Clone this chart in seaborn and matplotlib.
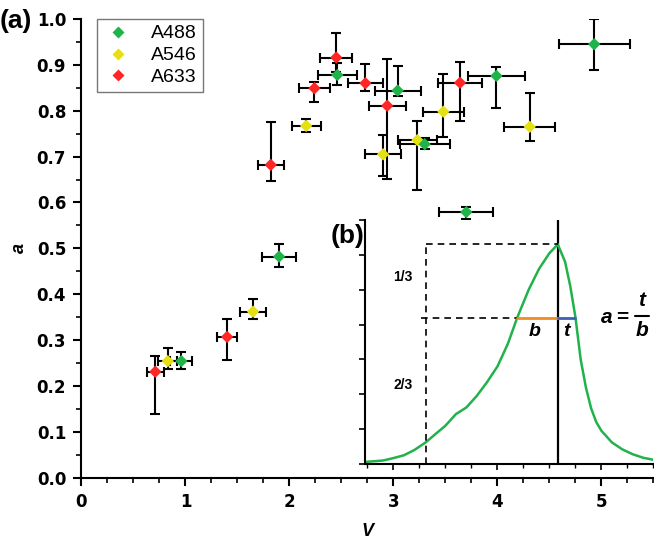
import matplotlib
matplotlib.use("Agg")
import matplotlib.pyplot as plt
from matplotlib.ticker import MultipleLocator, NullFormatter, FormatStrFormatter
from matplotlib.lines import Line2D
import pandas as pd
import seaborn as sns

# --- data -----------------------------------------------------------------
dyes = ["A488", "A546", "A633"]
colors = {"A488": "#1fb44a", "A546": "#e6e010", "A633": "#ff2626"}

a488_v = [0.96, 1.90, 2.46, 3.04, 3.30, 3.70, 3.99, 4.93]
a488_a = [0.254, 0.482, 0.878, 0.844, 0.727, 0.579, 0.876, 0.945]
a488_verr = [0.105, 0.16, 0.19, 0.22, 0.24, 0.26, 0.275, 0.34]
a488_lo = [0.238, 0.460, 0.856, 0.832, 0.716, 0.563, 0.807, 0.889]
a488_hi = [0.273, 0.509, 0.903, 0.898, 0.740, 0.591, 0.895, 0.999]

a546_v = [0.83, 1.65, 2.16, 2.90, 3.23, 3.48, 4.31]
a546_a = [0.254, 0.362, 0.767, 0.705, 0.736, 0.798, 0.765]
a546_verr = [0.09, 0.125, 0.14, 0.175, 0.185, 0.20, 0.245]
a546_lo = [0.237, 0.345, 0.754, 0.658, 0.627, 0.742, 0.734]
a546_hi = [0.283, 0.390, 0.783, 0.747, 0.778, 0.880, 0.839]

a633_v = [0.71, 1.40, 1.82, 2.24, 2.45, 2.73, 2.94, 3.64]
a633_a = [0.231, 0.307, 0.682, 0.849, 0.916, 0.860, 0.811, 0.861]
a633_verr = [0.08, 0.10, 0.125, 0.145, 0.155, 0.17, 0.18, 0.215]
a633_lo = [0.139, 0.257, 0.647, 0.818, 0.885, 0.842, 0.651, 0.778]
a633_hi = [0.265, 0.345, 0.776, 0.863, 0.969, 0.902, 0.913, 0.906]

# inset (b): example intensity profile
prof_v = [2.73, 2.9, 3.0, 3.1, 3.2, 3.31, 3.4, 3.5, 3.6, 3.7, 3.8, 3.9, 4.0,
          4.1, 4.19, 4.3, 4.4, 4.5, 4.58, 4.65, 4.7, 4.75, 4.8, 4.85, 4.9,
          4.95, 5.0, 5.1, 5.2, 5.3, 5.4, 5.5]
prof_i = [0.06, 0.1, 0.17, 0.25, 0.4, 0.62, 0.85, 1.1, 1.43, 1.62, 1.95, 2.35,
          2.8, 3.45, 4.2, 5.0, 5.6, 6.05, 6.3, 5.8, 5.1, 4.2, 3.0, 2.2, 1.6,
          1.2, 0.95, 0.62, 0.42, 0.28, 0.18, 0.12]
v_start, v_peak, v_b, v_t = 3.31, 4.58, 4.19, 4.75
i_peak, i_level = 6.3, 4.2

frames = []
for name, v, a, ve, lo, hi in [
    ("A633", a633_v, a633_a, a633_verr, a633_lo, a633_hi),
    ("A546", a546_v, a546_a, a546_verr, a546_lo, a546_hi),
    ("A488", a488_v, a488_a, a488_verr, a488_lo, a488_hi),
]:
    frames.append(pd.DataFrame({"dye": name, "V": v, "a": a, "verr": ve,
                                "lo": lo, "hi": hi}))
df = pd.concat(frames, ignore_index=True)
prof = pd.DataFrame({"V": prof_v, "I": prof_i})

# --- style ------------------------------------------------------------------
sns.set_style("ticks")
plt.rcParams["font.family"] = ["Liberation Sans", "DejaVu Sans"]
for key in ["axes.edgecolor", "xtick.color", "ytick.color", "text.color",
            "axes.labelcolor"]:
    plt.rcParams[key] = "black"

fig = plt.figure(figsize=(6.54, 5.43), dpi=100)
ax = fig.add_axes([0.1246, 0.1203, 0.8746, 0.8447])

# error bars first, then markers on top
ax.errorbar(df["V"], df["a"], xerr=df["verr"],
            yerr=[df["a"] - df["lo"], df["hi"] - df["a"]],
            fmt="none", ecolor="black", elinewidth=1.5, capsize=3.6,
            capthick=1.5, zorder=2)
sns.scatterplot(data=df, x="V", y="a", hue="dye", hue_order=dyes[::-1],
                palette=colors, marker="D", s=40, edgecolor="none",
                legend=False, ax=ax, zorder=3)

ax.set_xlim(0, 5.5)
ax.set_ylim(0, 1.0)
ax.xaxis.set_major_locator(MultipleLocator(1))
ax.xaxis.set_minor_locator(MultipleLocator(0.25))
ax.yaxis.set_major_locator(MultipleLocator(0.1))
ax.yaxis.set_minor_locator(MultipleLocator(0.05))
ax.yaxis.set_major_formatter(FormatStrFormatter("%.1f"))
ax.tick_params(which="major", direction="out", length=6, width=1.5,
               labelsize=12, pad=5)
ax.tick_params(which="minor", direction="out", length=3.5, width=1.2)
for lab in ax.get_xticklabels() + ax.get_yticklabels():
    lab.set_fontweight("bold")
    lab.set_family(["DejaVu Sans"])
for side in ["left", "bottom"]:
    ax.spines[side].set_linewidth(1.5)
sns.despine(ax=ax)

ax.set_xlabel("V", fontsize=13, fontweight="bold", style="italic", labelpad=9)
ax.set_ylabel("a", fontsize=13, fontweight="bold", style="italic", labelpad=6)

handles = [Line2D([], [], marker="D", ls="none", color=colors[d], ms=6.5,
                  mec="none") for d in dyes]
leg = ax.legend(handles, dyes, loc="upper left", bbox_to_anchor=(0.027, 1.0),
                fontsize=14, frameon=True, fancybox=False, borderpad=0.3,
                labelspacing=0.22, handletextpad=0.9, handlelength=1.6,
                borderaxespad=0)
leg.get_frame().set_edgecolor("#555555")
leg.get_frame().set_linewidth(1.0)

fig.text(0.0, 0.962, "(a)", fontsize=19, fontweight="bold", va="center")

# --- inset (b) ----------------------------------------------------------------
ax2 = fig.add_axes([0.5581, 0.1455, 0.4411, 0.4494])
ax2.set_facecolor("white")
sns.lineplot(data=prof, x="V", y="I", color="#22b24c", lw=1.8, ax=ax2)
ax2.set_xlim(2.726, 5.5)
ax2.set_ylim(0, 7)
ax2.xaxis.set_major_locator(MultipleLocator(1))
ax2.xaxis.set_minor_locator(MultipleLocator(0.25))
ax2.yaxis.set_major_locator(MultipleLocator(1))
ax2.xaxis.set_major_formatter(NullFormatter())
ax2.yaxis.set_major_formatter(NullFormatter())
ax2.tick_params(which="major", direction="out", length=4, width=1.2)
ax2.tick_params(which="minor", direction="out", length=3, width=1.0)
ax2.set_xlabel("")
ax2.set_ylabel("")
for side in ["left", "bottom"]:
    ax2.spines[side].set_linewidth(1.5)
sns.despine(ax=ax2)

ax2.axvline(v_peak, color="black", lw=1.6, zorder=1)
ax2.plot([v_start, v_start], [0, i_peak], ls=(0, (4, 3)), color="black", lw=1.2)
ax2.plot([v_start, v_peak], [i_peak, i_peak], ls=(0, (4, 3)), color="black",
         lw=1.2)
ax2.plot([3.26, v_b], [i_level, i_level], ls=(0, (4, 3)), color="black", lw=1.2)
ax2.plot([v_b, v_peak], [i_level, i_level], color="#f28b23", lw=2)
ax2.plot([v_peak, v_t], [i_level, i_level], color="#3d5fb6", lw=2)

ax2.text(3.09, 5.36, "1/3", fontsize=10, fontweight="bold", ha="center",
         va="center")
ax2.text(3.09, 2.26, "2/3", fontsize=10, fontweight="bold", ha="center",
         va="center")
ax2.text(4.36, 3.8, "b", fontsize=14, fontweight="bold", style="italic",
         ha="center", va="center")
ax2.text(4.66, 3.8, "t", fontsize=14, fontweight="bold", style="italic",
         ha="center", va="center")
ax2.text(5.05, 4.2, "a", fontsize=15, fontweight="bold", style="italic",
         ha="center", va="center")
ax2.text(5.2, 4.2, "=", fontsize=15, fontweight="bold", ha="center",
         va="center")
ax2.text(5.39, 4.68, "t", fontsize=15, fontweight="bold", style="italic",
         ha="center", va="center")
ax2.text(5.39, 3.82, "b", fontsize=15, fontweight="bold", style="italic",
         ha="center", va="center")
ax2.plot([5.32, 5.46], [4.25, 4.25], color="black", lw=1.5)

fig.text(0.505, 0.565, "(b)", fontsize=19, fontweight="bold", va="center")

fig.savefig("out.png", dpi=100)
